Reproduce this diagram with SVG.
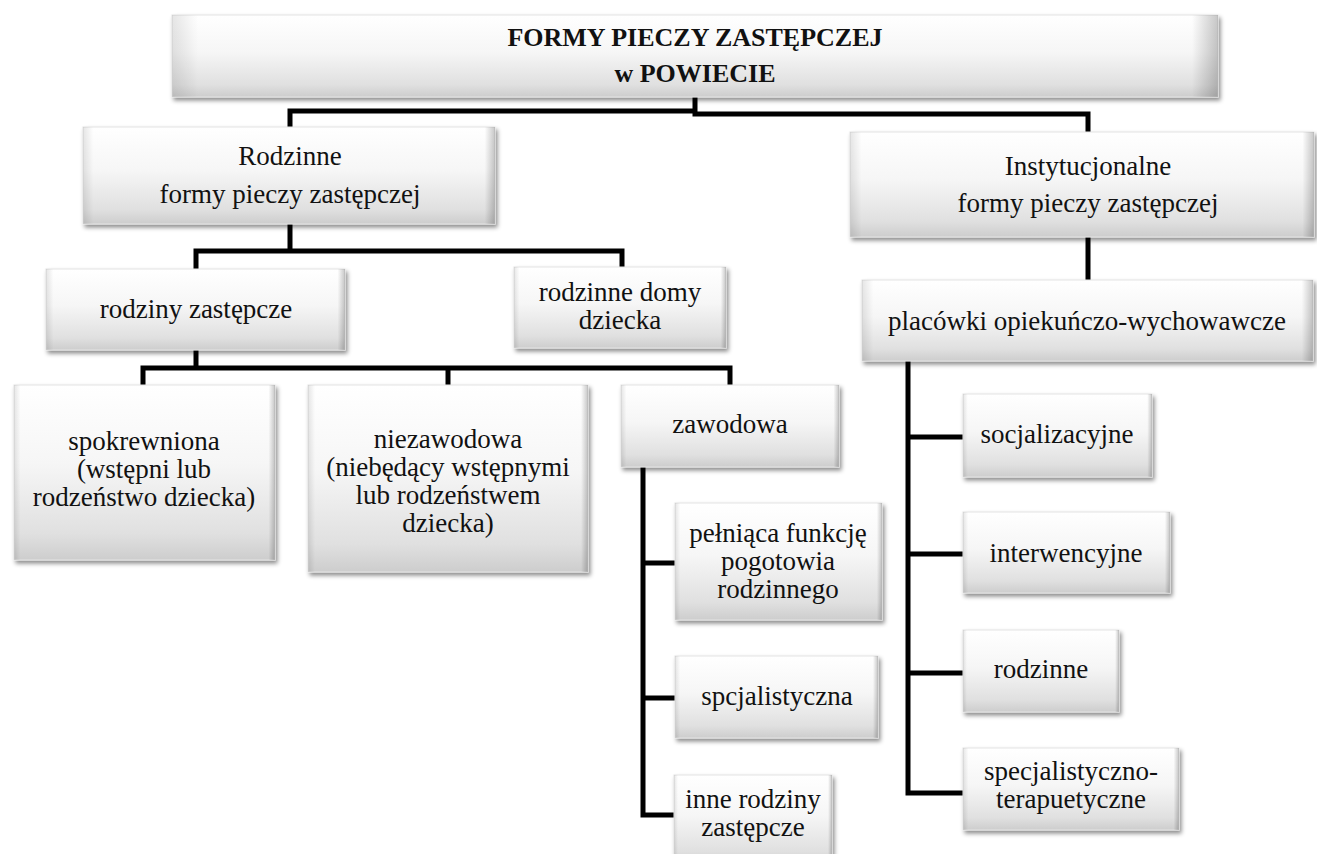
<svg xmlns="http://www.w3.org/2000/svg" width="1317" height="854" viewBox="0 0 1317 854">
<defs>
  <linearGradient id="gv" x1="0" y1="0" x2="0" y2="1">
    <stop offset="0" stop-color="#ffffff"/>
    <stop offset="0.45" stop-color="#f6f6f6"/>
    <stop offset="0.85" stop-color="#e0e0e0"/>
    <stop offset="1" stop-color="#cdcdcd"/>
  </linearGradient>
  <linearGradient id="gh" x1="0" y1="0" x2="1" y2="0">
    <stop offset="0" stop-color="#000" stop-opacity="0.10"/>
    <stop offset="0.025" stop-color="#000" stop-opacity="0"/>
    <stop offset="0.975" stop-color="#000" stop-opacity="0"/>
    <stop offset="1" stop-color="#000" stop-opacity="0.22"/>
  </linearGradient>
  <filter id="sh" x="-5%" y="-10%" width="115%" height="130%">
    <feDropShadow dx="2" dy="3" stdDeviation="2" flood-color="#000" flood-opacity="0.45"/>
  </filter>
</defs>
<style>
  .box { fill: url(#gv); stroke: #e4e4e4; stroke-width: 1; filter: url(#sh); }
  .side { fill: url(#gh); }
  text { font-family: "Times New Roman", Times, "Liberation Serif", Tinos, "DejaVu Serif", "Noto Serif", serif; }
  .t { font-size: 27px; fill: #111; text-anchor: middle; }
  .tb { font-size: 26px; font-weight: bold; fill: #111; text-anchor: middle; }
  .c { fill: none; stroke: #000; stroke-width: 5; stroke-linejoin: miter; stroke-linecap: butt; }
</style>
<rect width="1317" height="854" fill="#fff"/>
<g id="connectors">
  <path class="c" d="M290 127 V111 H695"/>
  <path class="c" d="M695 97 V114 H1088 V132"/>
  <path class="c" d="M290 224 V251"/>
  <path class="c" d="M196 269 V251 H622 V267"/>
  <path class="c" d="M196 350 V368"/>
  <path class="c" d="M143 385 V368 H730 V385"/>
  <path class="c" d="M448 368 V385"/>
  <path class="c" d="M1088 237 V280"/>
  <path class="c" d="M643 467 V815 H675"/>
  <path class="c" d="M643 563 H675"/>
  <path class="c" d="M643 698 H675"/>
  <path class="c" d="M908 361 V793 H963"/>
  <path class="c" d="M908 437 H963"/>
  <path class="c" d="M908 554 H963"/>
  <path class="c" d="M908 673 H963"/>
</g>
<g id="n-top">
  <rect class="box" x="172" y="15" width="1046" height="82"/>
  <rect class="side" x="172" y="15" width="1046" height="82"/>
  <text class="tb" x="695" y="46">FORMY PIECZY ZASTĘPCZEJ</text>
  <text class="tb" x="695" y="82">w POWIECIE</text>
</g>
<g id="n-rodzinne">
  <rect class="box" x="83" y="127" width="412" height="97"/>
  <rect class="side" x="83" y="127" width="412" height="97"/>
  <text class="t" x="290" y="165">Rodzinne</text>
  <text class="t" x="290" y="203">formy pieczy zastępczej</text>
</g>
<g id="n-instytucjonalne">
  <rect class="box" x="850" y="132" width="464" height="105"/>
  <rect class="side" x="850" y="132" width="464" height="105"/>
  <text class="t" x="1088" y="175">Instytucjonalne</text>
  <text class="t" x="1088" y="212">formy pieczy zastępczej</text>
</g>
<g id="n-rodziny-zastepcze">
  <rect class="box" x="46" y="269" width="299" height="81"/>
  <rect class="side" x="46" y="269" width="299" height="81"/>
  <text class="t" x="196" y="318">rodziny zastępcze</text>
</g>
<g id="n-rodzinne-domy">
  <rect class="box" x="514" y="267" width="212" height="81"/>
  <rect class="side" x="514" y="267" width="212" height="81"/>
  <text class="t" x="620" y="301">rodzinne domy</text>
  <text class="t" x="620" y="329">dziecka</text>
</g>
<g id="n-placowki">
  <rect class="box" x="862" y="280" width="451" height="81"/>
  <rect class="side" x="862" y="280" width="451" height="81"/>
  <text class="t" x="1087" y="330">placówki opiekuńczo-wychowawcze</text>
</g>
<g id="n-spokrewniona">
  <rect class="box" x="14" y="385" width="261" height="175"/>
  <rect class="side" x="14" y="385" width="261" height="175"/>
  <text class="t" x="144" y="450">spokrewniona</text>
  <text class="t" x="144" y="478">(wstępni lub</text>
  <text class="t" x="144" y="506">rodzeństwo dziecka)</text>
</g>
<g id="n-niezawodowa">
  <rect class="box" x="308" y="385" width="280" height="187"/>
  <rect class="side" x="308" y="385" width="280" height="187"/>
  <text class="t" x="448" y="448">niezawodowa</text>
  <text class="t" x="448" y="476">(niebędący wstępnymi</text>
  <text class="t" x="448" y="504">lub rodzeństwem</text>
  <text class="t" x="448" y="532">dziecka)</text>
</g>
<g id="n-zawodowa">
  <rect class="box" x="621" y="385" width="218" height="82"/>
  <rect class="side" x="621" y="385" width="218" height="82"/>
  <text class="t" x="730" y="433">zawodowa</text>
</g>
<g id="n-pelniaca">
  <rect class="box" x="675" y="503" width="207" height="117"/>
  <rect class="side" x="675" y="503" width="207" height="117"/>
  <text class="t" x="778" y="542">pełniąca funkcję</text>
  <text class="t" x="778" y="570">pogotowia</text>
  <text class="t" x="778" y="598">rodzinnego</text>
</g>
<g id="n-spcjalistyczna">
  <rect class="box" x="675" y="656" width="203" height="82"/>
  <rect class="side" x="675" y="656" width="203" height="82"/>
  <text class="t" x="777" y="705">spcjalistyczna</text>
</g>
<g id="n-inne">
  <rect class="box" x="674" y="775" width="158" height="90"/>
  <rect class="side" x="674" y="775" width="158" height="90"/>
  <text class="t" x="753" y="808">inne rodziny</text>
  <text class="t" x="753" y="836">zastępcze</text>
</g>
<g id="n-socjalizacyjne">
  <rect class="box" x="963" y="394" width="189" height="83"/>
  <rect class="side" x="963" y="394" width="189" height="83"/>
  <text class="t" x="1057" y="443">socjalizacyjne</text>
</g>
<g id="n-interwencyjne">
  <rect class="box" x="963" y="512" width="207" height="81"/>
  <rect class="side" x="963" y="512" width="207" height="81"/>
  <text class="t" x="1066" y="562">interwencyjne</text>
</g>
<g id="n-rodzinne-placowki">
  <rect class="box" x="963" y="630" width="156" height="82"/>
  <rect class="side" x="963" y="630" width="156" height="82"/>
  <text class="t" x="1041" y="678">rodzinne</text>
</g>
<g id="n-specjalistyczno">
  <rect class="box" x="963" y="748" width="216" height="82"/>
  <rect class="side" x="963" y="748" width="216" height="82"/>
  <text class="t" x="1071" y="780">specjalistyczno-</text>
  <text class="t" x="1071" y="808">terapuetyczne</text>
</g>
</svg>
